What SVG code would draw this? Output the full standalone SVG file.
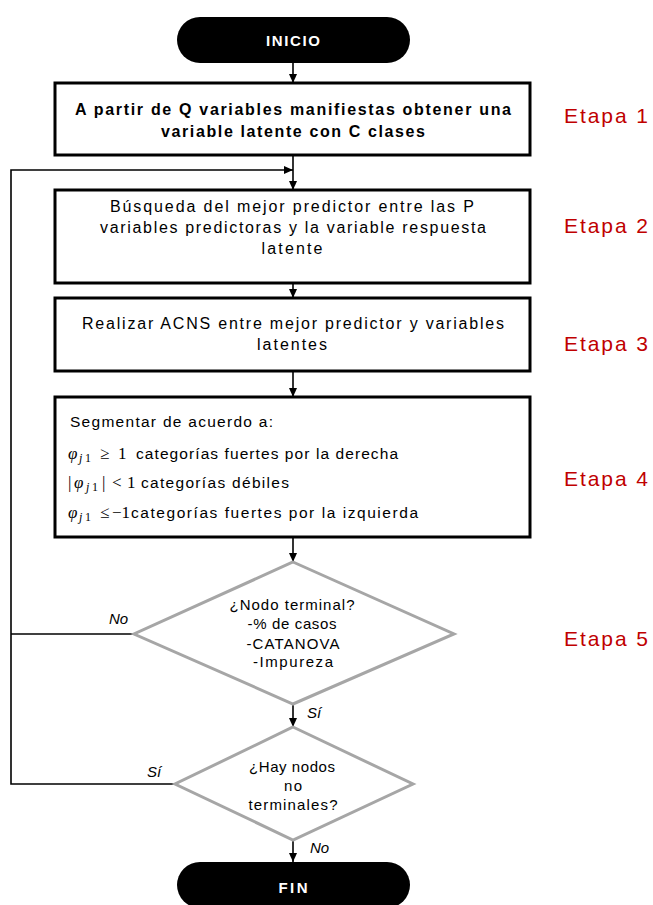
<svg xmlns="http://www.w3.org/2000/svg" width="653" height="905" viewBox="0 0 653 905">
<defs>
<marker id="ah" markerWidth="10" markerHeight="10" refX="9" refY="5" orient="auto" markerUnits="userSpaceOnUse">
<path d="M0,1 L9,5 L0,9 Z" fill="#000"/>
</marker>
<style>
.t{font-family:"Liberation Sans",Arial,sans-serif;font-size:16px;fill:#000;text-anchor:middle}
.b{font-weight:bold;font-size:16px}
.d{font-size:15px}
.tl{font-family:"Liberation Sans",Arial,sans-serif;font-size:15.5px;fill:#000}
.m{font-family:"Liberation Serif","Times New Roman",serif;font-size:17px}
.s{font-size:12px}
.i{font-style:italic}
.et{font-family:"Liberation Sans",Arial,sans-serif;font-size:21px;fill:#C00000}
.lab{font-family:"Liberation Sans",Arial,sans-serif;font-size:15px;font-style:italic;fill:#000}
.box{fill:#fff;stroke:#000;stroke-width:3}
.dia{fill:#fff;stroke:#A6A6A6;stroke-width:3}
.pill{fill:#000}
.pt{font-family:"Liberation Sans",Arial,sans-serif;font-size:15px;font-weight:bold;fill:#fff;text-anchor:middle}
.c{fill:none;stroke:#000;stroke-width:1.6}
</style>
</defs>
<rect width="653" height="905" fill="#fff"/>
<g id="connectors">
<line class="c" x1="293" y1="63" x2="293" y2="83" marker-end="url(#ah)"/>
<line class="c" x1="293" y1="155" x2="293" y2="190" marker-end="url(#ah)"/>
<line class="c" x1="293" y1="283" x2="293" y2="298" marker-end="url(#ah)"/>
<line class="c" x1="293" y1="371" x2="293" y2="397" marker-end="url(#ah)"/>
<line class="c" x1="293" y1="537" x2="293" y2="562" marker-end="url(#ah)"/>
<line class="c" x1="293" y1="704" x2="293" y2="727" marker-end="url(#ah)"/>
<line class="c" x1="293" y1="840" x2="293" y2="862" marker-end="url(#ah)"/>
<line class="c" x1="134" y1="634" x2="11" y2="634"/>
<polyline class="c" points="175,784 11,784 11,170 293,170" marker-end="url(#ah)"/>
<text class="lab" x="109" y="624">No</text>
<text class="lab" x="147" y="777">Sí</text>
<text class="lab" x="307" y="718">Sí</text>
<text class="lab" x="310" y="853">No</text>
</g>
<g id="inicio">
<rect class="pill" x="177" y="17" width="233" height="46" rx="23"/>
<text class="pt" x="293" y="46" textLength="54">INICIO</text>
</g>
<g id="etapa1">
<rect class="box" x="55" y="83" width="475" height="72"/>
<text class="t b" x="293" y="115" textLength="436">A partir de Q variables manifiestas obtener una</text>
<text class="t b" x="293" y="137" textLength="264">variable latente con C clases</text>
</g>
<g id="etapa2">
<rect class="box" x="55" y="190" width="475" height="93"/>
<text class="t" x="292" y="212" textLength="364">Búsqueda del mejor predictor entre las P</text>
<text class="t" x="293" y="233" textLength="386">variables predictoras y la variable respuesta</text>
<text class="t" x="292" y="254" textLength="61">latente</text>
</g>
<g id="etapa3">
<rect class="box" x="55" y="298" width="475" height="73"/>
<text class="t" x="293" y="329" textLength="422">Realizar ACNS entre mejor predictor y variables</text>
<text class="t" x="292" y="350" textLength="70">latentes</text>
</g>
<g id="etapa4">
<rect class="box" x="55" y="397" width="475" height="140"/>
<text class="tl" x="70" y="427" font-size="16.5" textLength="203">Segmentar de acuerdo a:</text>
<text class="tl" y="459"><tspan class="m i" x="68">φ</tspan><tspan class="m i s" x="79" dy="3">j</tspan><tspan class="m s" x="85">1</tspan><tspan class="m" x="100" dy="-3">≥</tspan><tspan class="m" x="118">1</tspan></text>
<text class="tl" x="136" y="459" textLength="262">categorías fuertes por la derecha</text>
<text class="tl" y="488"><tspan class="m" x="68" font-size="19">|</tspan><tspan class="m i" x="74">φ</tspan><tspan class="m i s" x="86" dy="3">j</tspan><tspan class="m s" x="92">1</tspan><tspan class="m" font-size="19" x="102" dy="-3">|</tspan><tspan class="m" x="112">&lt;</tspan><tspan class="m" x="127">1</tspan></text>
<text class="tl" x="141" y="488" textLength="148">categorías débiles</text>
<text class="tl" y="518"><tspan class="m i" x="68">φ</tspan><tspan class="m i s" x="79" dy="3">j</tspan><tspan class="m s" x="85">1</tspan><tspan class="m" x="100" dy="-3">≤</tspan><tspan class="m" x="112">−1</tspan></text>
<text class="tl" x="131" y="518" textLength="287">categorías fuertes por la izquierda</text>
</g>
<g id="nodo-terminal">
<polygon class="dia" points="293,562 454,634 293,704 134,634"/>
<text class="t d" x="292" y="610" textLength="125">¿Nodo terminal?</text>
<text class="t d" x="292" y="629" textLength="89">-% de casos</text>
<text class="t d" x="293" y="649" textLength="93">-CATANOVA</text>
<text class="t d" x="293" y="667" textLength="80">-Impureza</text>
</g>
<g id="hay-nodos">
<polygon class="dia" points="293,727 413,784 293,840 175,784"/>
<text class="t d" x="292" y="772" textLength="86">¿Hay nodos</text>
<text class="t d" x="293" y="791" textLength="18">no</text>
<text class="t d" x="293" y="810" textLength="89">terminales?</text>
</g>
<g id="fin">
<rect class="pill" x="177" y="862" width="233" height="46" rx="23"/>
<text class="pt" x="293" y="893" textLength="29">FIN</text>
</g>
<g id="etapas">
<text class="et" x="564" y="123" textLength="84">Etapa 1</text>
<text class="et" x="564" y="233" textLength="84">Etapa 2</text>
<text class="et" x="564" y="351" textLength="84">Etapa 3</text>
<text class="et" x="564" y="486" textLength="84">Etapa 4</text>
<text class="et" x="564" y="646" textLength="84">Etapa 5</text>
</g>
</svg>
